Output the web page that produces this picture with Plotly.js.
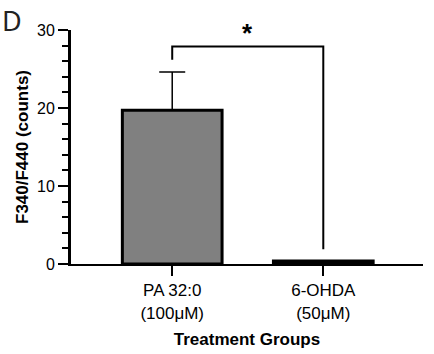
<!DOCTYPE html>
<html>
<head>
<meta charset="utf-8">
<script src="https://cdn.plot.ly/plotly-3.0.1.min.js"></script>
<style>html,body{margin:0;padding:0;background:#fff;}#chart{width:434px;height:354px;}</style>
</head>
<body>
<div id="chart"></div>
<script>
const categories = ["PA 32:0<br>(100μM)", "6-OHDA<br>(50μM)"];
const means = [19.7, 0.4];
const errorsUp = [4.9, 0];
const bracketX = [0, 0, 1, 1];
const bracketY = [26.2, 27.9, 27.9, 1.9];
const sigLabel = "*";
const sigY = 29.6;

const catIdx = categories.map((c, i) => i);

const traces = [
  {
    type: 'bar',
    x: catIdx,
    y: means,
    width: 0.66,
    marker: {color: '#808080', line: {color: '#000', width: 3}},
    error_y: {type: 'data', array: errorsUp, arrayminus: [0, 0], symmetric: false,
              color: '#000', thickness: 1.5, width: 13},
    hoverinfo: 'none'
  },
  {
    type: 'scatter',
    mode: 'lines',
    x: bracketX.map(v => catIdx[v]),
    y: bracketY,
    line: {color: '#000', width: 2},
    hoverinfo: 'none'
  }
];

const layout = {
  width: 434, height: 354,
  margin: {l: 71, r: 11, t: 30, b: 90},
  paper_bgcolor: '#fff', plot_bgcolor: '#fff',
  showlegend: false,
  font: {family: "'Liberation Sans', Arial, sans-serif", color: '#000'},
  xaxis: {
    range: [-0.67, 1.66],
    tickvals: catIdx, ticktext: categories,
    ticks: 'outside', ticklen: 10, tickwidth: 2, tickcolor: '#000',
    showline: true, linewidth: 2, linecolor: '#000',
    showgrid: false, zeroline: false,
    tickfont: {size: 17, color: '#000'},
    title: {text: '<b>Treatment Groups</b>', font: {size: 17, color: '#000'}, standoff: 12}
  },
  yaxis: {
    range: [0, 30],
    dtick: 10, tick0: 0,
    ticks: 'outside', ticklen: 10, tickwidth: 2, tickcolor: '#000',
    minor: {dtick: 2, ticks: 'outside', ticklen: 6, tickwidth: 2, tickcolor: '#000'},
    showline: true, linewidth: 3, linecolor: '#000',
    showgrid: false, zeroline: false,
    tickfont: {size: 16, color: '#000'},
    title: {text: '<b>F340/F440 (counts)</b>', font: {size: 17, color: '#000'}, standoff: 5}
  },
  annotations: [
    {x: 0.5, y: sigY, xref: 'x', yref: 'y', text: '<b>' + sigLabel + '</b>', showarrow: false,
     font: {size: 26, color: '#000'}},
    {x: 0, y: 1, xref: 'paper', yref: 'paper', xanchor: 'left', yanchor: 'top',
     xshift: -71, yshift: 30, text: 'D', showarrow: false,
     font: {family: "'Noto Sans', 'DejaVu Sans', sans-serif", size: 27, color: '#222'}}
  ]
};

Plotly.newPlot('chart', traces, layout, {displayModeBar: false, staticPlot: true});
</script>
</body>
</html>
